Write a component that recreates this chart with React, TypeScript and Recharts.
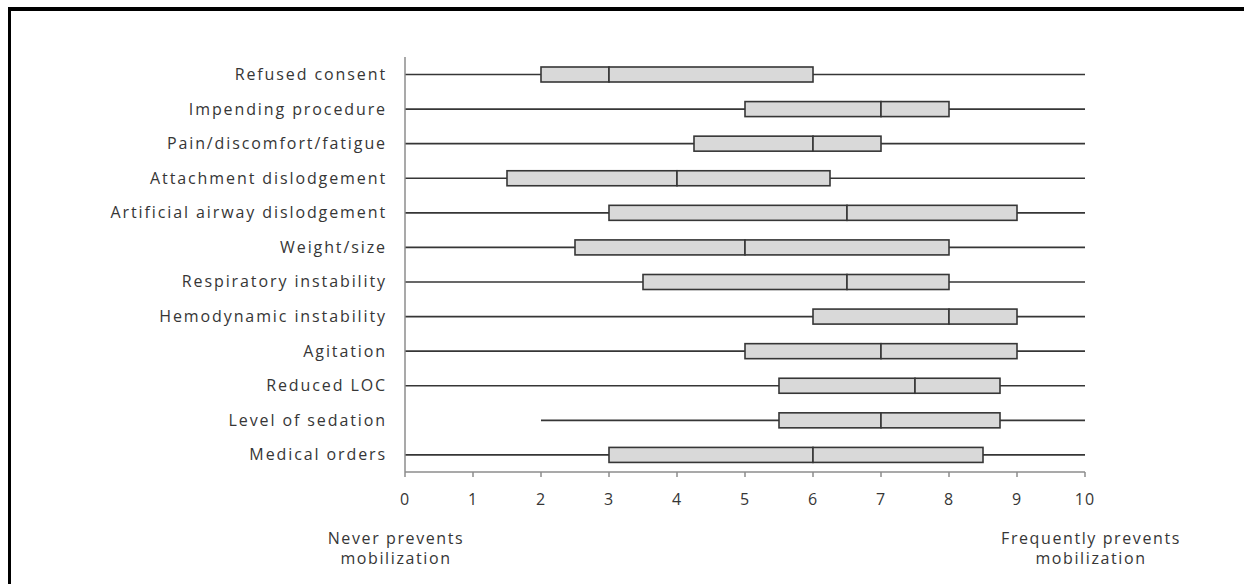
import React from 'react';
import { ComposedChart, Bar, XAxis, YAxis } from 'recharts';

// barriers, top to bottom
const barriers = [
  'Refused consent',
  'Impending procedure',
  'Pain/discomfort/fatigue',
  'Attachment dislodgement',
  'Artificial airway dislodgement',
  'Weight/size',
  'Respiratory instability',
  'Hemodynamic instability',
  'Agitation',
  'Reduced LOC',
  'Level of sedation',
  'Medical orders',
];

const minVals = [0, 0, 0, 0, 0, 0, 0, 0, 0, 0, 2, 0];
const q1Vals = [2, 5, 4.25, 1.5, 3, 2.5, 3.5, 6, 5, 5.5, 5.5, 3];
const medianVals = [3, 7, 6, 4, 6.5, 5, 6.5, 8, 7, 7.5, 7, 6];
const q3Vals = [6, 8, 7, 6.25, 9, 8, 8, 9, 9, 8.75, 8.75, 8.5];
const maxVals = [10, 10, 10, 10, 10, 10, 10, 10, 10, 10, 10, 10];

const xTicks = [0, 1, 2, 3, 4, 5, 6, 7, 8, 9, 10];

// stacked pieces: offset | lower whisker | lower box | upper box | upper whisker
const data = barriers.map((name, i) => ({
  name,
  offset: minVals[i],
  lowWhisker: q1Vals[i] - minVals[i],
  lowBox: medianVals[i] - q1Vals[i],
  highBox: q3Vals[i] - medianVals[i],
  highWhisker: maxVals[i] - q3Vals[i],
}));

const FONT = '"Open Sans", sans-serif';
const INK = '#363636';

const Whisker = (props: any) => {
  const { x, y, width, height } = props;
  if (!width) return null;
  const cy = y + height / 2;
  return <line x1={x} x2={x + width} y1={cy} y2={cy} stroke={INK} strokeWidth={1.6} />;
};

const Box = (props: any) => {
  const { x, y, width, height } = props;
  if (!width) return null;
  return <rect x={x} y={y} width={width} height={height} fill="#d9d9d9" stroke={INK} strokeWidth={1.6} />;
};

const Empty = () => null;

const noteStyle: React.CSSProperties = {
  position: 'absolute',
  top: 528,
  textAlign: 'center',
  fontFamily: FONT,
  fontSize: 16,
  lineHeight: '20px',
  color: INK,
  letterSpacing: 1.6,
};

export default function App() {
  return (
    <div style={{ position: 'absolute', left: 0, top: 0, width: 1244, height: 584, background: '#fff', overflow: 'hidden' }}>
      <div style={{ position: 'absolute', left: 8, top: 7, width: 1240, height: 580, borderTop: '4px solid #000', borderLeft: '3px solid #000', boxSizing: 'border-box' }} />
      <ComposedChart
        width={1244}
        height={584}
        layout="vertical"
        data={data}
        margin={{ top: 57, right: 159, bottom: 82, left: 0 }}
        style={{ position: 'absolute', left: 0, top: 0 }}
      >
        <XAxis
          type="number"
          domain={[0, 10]}
          ticks={xTicks}
          interval={0}
          height={30}
          axisLine={{ stroke: '#8c8c8c', strokeWidth: 1.5 }}
          tickLine={{ stroke: '#8c8c8c', strokeWidth: 1.5 }}
          tickSize={5}
          tickMargin={17}
          tick={{ fill: INK, fontSize: 16, fontFamily: FONT, letterSpacing: 1 }}
        />
        <YAxis
          type="category"
          dataKey="name"
          width={405}
          axisLine={{ stroke: '#8c8c8c', strokeWidth: 1.5 }}
          tickLine={false}
          tickSize={0}
          tickMargin={18}
          interval={0}
          tick={{ fill: INK, fontSize: 16, fontFamily: FONT, letterSpacing: 1.9 }}
        />
        <Bar dataKey="offset" stackId="b" barSize={15} shape={Empty} isAnimationActive={false} />
        <Bar dataKey="lowWhisker" stackId="b" barSize={15} shape={Whisker} isAnimationActive={false} />
        <Bar dataKey="lowBox" stackId="b" barSize={15} shape={Box} isAnimationActive={false} />
        <Bar dataKey="highBox" stackId="b" barSize={15} shape={Box} isAnimationActive={false} />
        <Bar dataKey="highWhisker" stackId="b" barSize={15} shape={Whisker} isAnimationActive={false} />
      </ComposedChart>
      <div style={{ ...noteStyle, left: 276, width: 240 }}>
        Never prevents<br />mobilization
      </div>
      <div style={{ ...noteStyle, left: 961, width: 260 }}>
        Frequently prevents<br />mobilization
      </div>
    </div>
  );
}
